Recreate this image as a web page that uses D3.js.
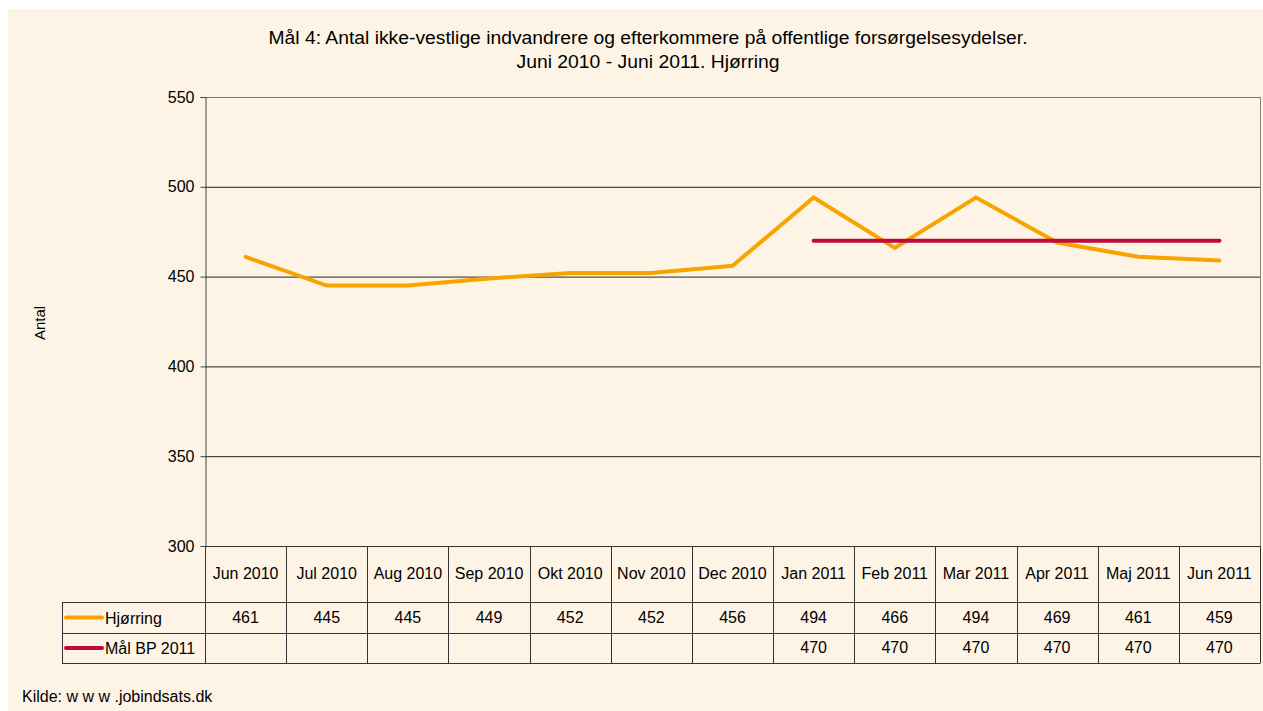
<!DOCTYPE html>
<html>
<head>
<meta charset="utf-8">
<script src="https://cdn.jsdelivr.net/npm/d3@7"></script>
<style>
  html, body { margin: 0; padding: 0; background: #ffffff; }
  svg { display: block; font-family: "Liberation Sans", Arial, sans-serif; }
</style>
</head>
<body>
<svg id="chart" width="1263" height="711"></svg>
<script>
const months = ["Jun 2010","Jul 2010","Aug 2010","Sep 2010","Okt 2010","Nov 2010","Dec 2010","Jan 2011","Feb 2011","Mar 2011","Apr 2011","Maj 2011","Jun 2011"];
const hjorring = [461,445,445,449,452,452,456,494,466,494,469,461,459];
const maalBP = [null,null,null,null,null,null,null,470,470,470,470,470,470];
const yTicks = [300,350,400,450,500,550];
const seriesNames = ["Hjørring","Mål BP 2011"];
const seriesColors = ["#F7A400","#BE0A3C"];
const titleLines = ["Mål 4: Antal ikke-vestlige indvandrere og efterkommere på offentlige forsørgelsesydelser.","Juni 2010 - Juni 2011. Hjørring"];

(function(){
const svg = d3.select("#chart");
const W = 1263, H = 711;
const pLeft = 205, pRight = 1260, pTop = 97, pBottom = 546;
const row1 = 602, row2 = 633, row3 = 663, legLeft = 62;
const titleWidths = [759, 263];

svg.append("rect").attr("x",8).attr("y",9).attr("width",W-8).attr("height",H-9).attr("fill","#FEF4E6");

const x = d3.scaleBand().domain(months).range([pLeft,pRight]).padding(0);
const y = d3.scaleLinear().domain([300,550]).range([pBottom,pTop]);

// title
svg.append("g").selectAll("text").data(titleLines).join("text")
  .attr("x",648).attr("y",(d,i)=>44+i*24)
  .attr("text-anchor","middle").attr("font-size",17.5).attr("fill","#000")
  .attr("textLength",(d,i)=>titleWidths[i]).attr("lengthAdjust","spacingAndGlyphs")
  .text(d=>d);

// gridlines
svg.append("g").selectAll("line").data(yTicks.filter(t=>t>300)).join("line")
  .attr("x1",pLeft).attr("x2",pRight).attr("y1",d=>y(d)+0.5).attr("y2",d=>y(d)+0.5)
  .attr("stroke",d=>d===550?"#777":"#222").attr("stroke-width",1);
svg.append("line").attr("x1",pRight+0.5).attr("x2",pRight+0.5).attr("y1",pTop).attr("y2",pBottom)
  .attr("stroke","#888").attr("stroke-width",1);

// y axis
const yAxis = d3.axisLeft(y).tickValues(yTicks).tickSize(5).tickPadding(6);
const gy = svg.append("g").attr("transform",`translate(${pLeft+0.5},0)`).call(yAxis);
gy.select(".domain").attr("stroke","#444");
gy.selectAll(".tick line").attr("stroke","#444");
gy.selectAll(".tick text").attr("font-size",16).attr("fill","#000").attr("font-family","Liberation Sans, Arial, sans-serif");

svg.append("text").attr("transform","translate(45,323) rotate(-90)")
  .attr("text-anchor","middle").attr("font-size",15).text("Antal");

// lines
const mkLine = () => d3.line().defined(d=>d!=null).x((d,i)=>x(months[i])+x.bandwidth()/2).y(d=>y(d));
svg.append("path").datum(hjorring).attr("d",mkLine()).attr("fill","none")
  .attr("stroke",seriesColors[0]).attr("stroke-width",4).attr("stroke-linecap","round");
svg.append("path").datum(maalBP).attr("d",mkLine())
  .attr("fill","none").attr("stroke",seriesColors[1]).attr("stroke-width",4).attr("stroke-linecap","round");

// data table
const tg = svg.append("g");
[pBottom,row1,row2,row3].forEach((yy,i)=>{
  tg.append("line").attr("x1",i===0?pLeft:legLeft).attr("x2",pRight+0.5)
    .attr("y1",yy+0.5).attr("y2",yy+0.5).attr("stroke","#333").attr("stroke-width",1);
});
const bounds = months.map(m=>x(m)).concat([pRight]);
tg.selectAll("line.v").data(bounds).join("line").attr("class","v")
  .attr("x1",d=>Math.round(d)+0.5).attr("x2",d=>Math.round(d)+0.5)
  .attr("y1",pBottom).attr("y2",row3).attr("stroke","#333");
tg.append("line").attr("x1",legLeft+0.5).attr("x2",legLeft+0.5).attr("y1",row1).attr("y2",row3).attr("stroke","#333");

tg.selectAll("text.h").data(months).join("text").attr("class","h")
  .attr("x",d=>x(d)+x.bandwidth()/2).attr("y",(pBottom+row1)/2+5)
  .attr("text-anchor","middle").attr("font-size",16).text(d=>d);
const rows = [hjorring, maalBP];
rows.forEach((vals,r)=>{
  const yy = (r===0?(row1+row2)/2:(row2+row3)/2)+5;
  tg.selectAll("text.r"+r).data(vals).join("text").attr("class","r"+r)
    .attr("x",(d,i)=>x(months[i])+x.bandwidth()/2).attr("y",yy)
    .attr("text-anchor","middle").attr("font-size",16).text(d=>d==null?"":d);
  tg.append("line").attr("x1",66).attr("x2",102).attr("y1",yy-5).attr("y2",yy-5)
    .attr("stroke",seriesColors[r]).attr("stroke-width",4).attr("stroke-linecap","round");
  tg.append("text").attr("x",105).attr("y",yy+1).attr("font-size",16).text(seriesNames[r]);
});

svg.append("text").attr("x",22).attr("y",702).attr("font-size",16).text("Kilde: w w w .jobindsats.dk");
})();
</script>
</body>
</html>
